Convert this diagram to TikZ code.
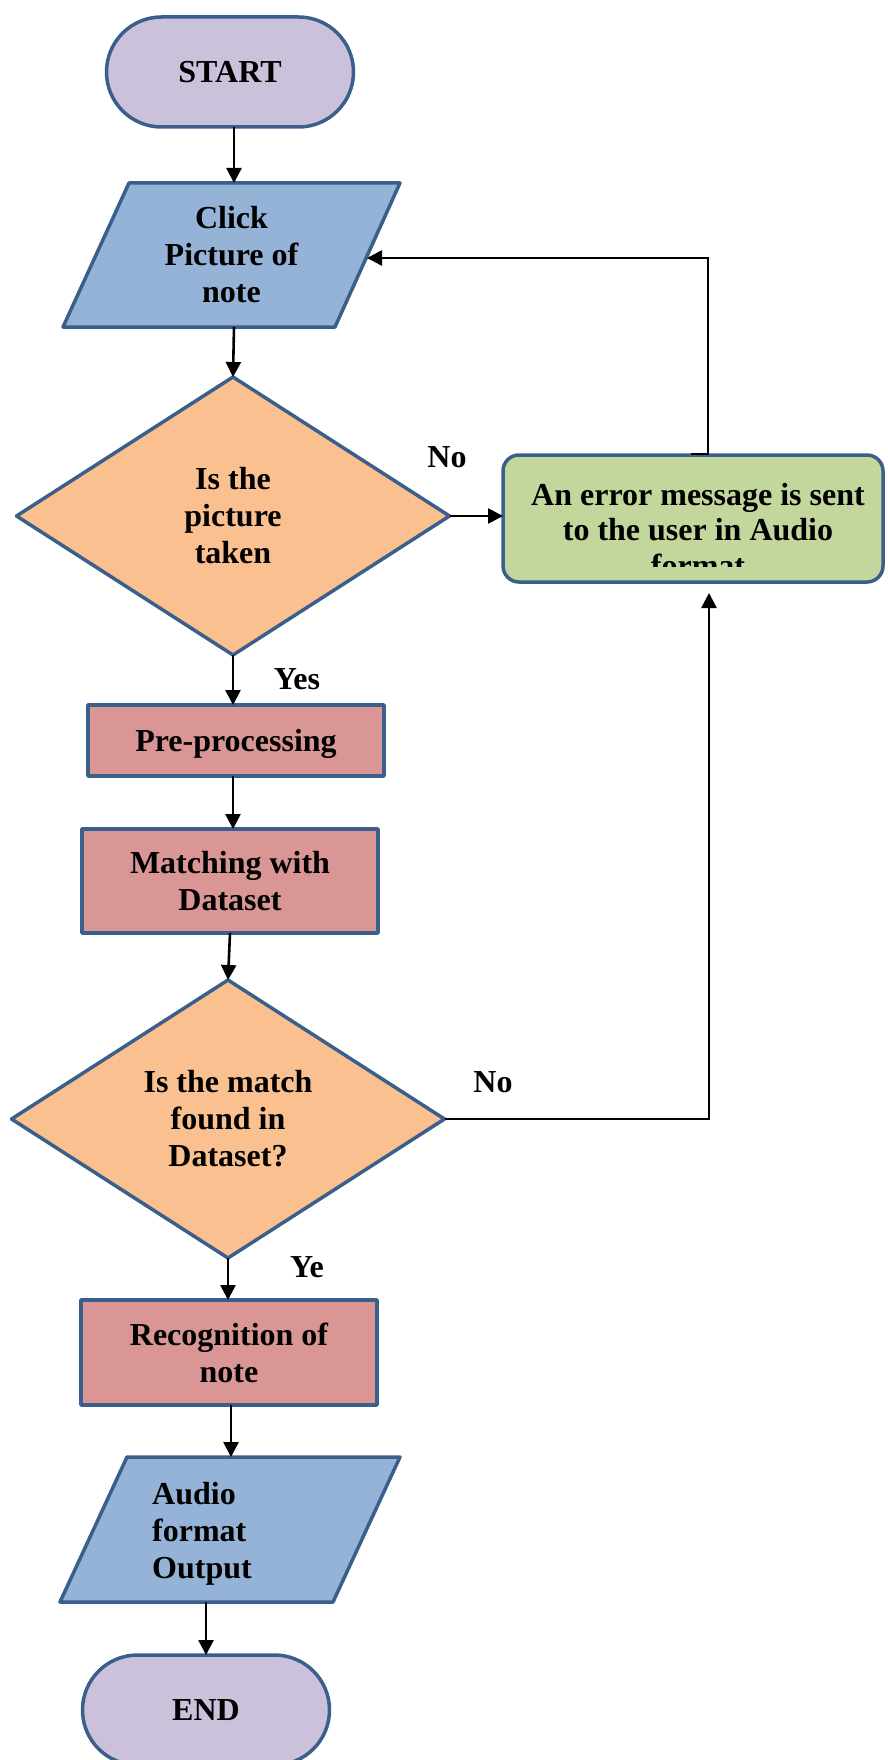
\documentclass[tikz,border=0pt]{standalone}
\usepackage{fontspec}
\setmainfont{Liberation Serif}
\usetikzlibrary{shapes.geometric,arrows.meta,backgrounds}

\definecolor{termfill}{HTML}{CCC1DA}
\definecolor{iofill}{HTML}{95B3D7}
\definecolor{decfill}{HTML}{FAC090}
\definecolor{procfill}{HTML}{D99694}
\definecolor{errfill}{HTML}{C3D69B}
\definecolor{edge}{HTML}{3A5F8B}

\newcommand{\nodepth}[1]{\raisebox{0pt}[\height][0pt]{#1}}

\tikzset{
  txt/.style={font=\bfseries\fontsize{32}{37}\selectfont},
  base/.style={txt, draw=edge, line width=3.5pt, line join=round, inner sep=0pt,
    outer sep=0pt, align=center},
  terminal/.style={base, fill=termfill, rectangle, rounded corners=55pt,
    minimum width=247pt, minimum height=110pt},
  iobounds/.style={txt, rectangle, inner sep=0pt, outer sep=0pt, align=center},
  ioshape/.style={draw=edge, fill=iofill, line width=3.5pt, line join=round},
  decision/.style={base, fill=decfill, diamond, minimum width=433pt, minimum height=278pt},
  process/.style={base, fill=procfill, rectangle, minimum width=296pt},
  errbox/.style={base, fill=errfill, rectangle, rounded corners=16pt,
    minimum width=380pt, minimum height=127pt},
  lbl/.style={txt, inner sep=0pt},
  conn/.style={line width=2.6pt, -{Triangle[length=15pt,width=15pt]}}
}

\begin{document}
\begin{tikzpicture}[x=1pt, y=-1pt]
\useasboundingbox (0,0) rectangle (887,1760);

% shapes
\node[terminal] (start) at (230,72) {START};
\node[iobounds, minimum width=337pt, minimum height=144pt] (click) at (231.5,255)
  {Click\\Picture of\\note};
\node[decision] (d1) at (233,516) {Is the\\picture\\taken};
\node[errbox] (err) at (693,518.5) {};
\node[process, minimum height=71pt] (pre) at (236,740.5) {\nodepth{Pre-processing}};
\node[process, minimum height=104pt] (match) at (230,881) {Matching with\\Dataset};
\node[decision] (d2) at (228,1119) {Is the match\\found in\\Dataset?};
\node[process, minimum height=105pt] (recog) at (229,1352.5) {Recognition of\\note};
\node[iobounds, minimum width=340pt, minimum height=145pt] (audio) at (230,1529.5) {};
\node[lbl, align=left, anchor=west] (audiotext) at (152,1534) {Audio\\format\\Output};
\node[terminal] (end) at (206,1710) {END};

% slanted input/output boxes behind their text
\begin{scope}[on background layer]
  \draw[ioshape] ([xshift=66pt]click.north west) -- (click.north east)
    -- ([xshift=-65pt]click.south east) -- (click.south west) -- cycle;
  \draw[ioshape] ([xshift=67pt]audio.north west) -- (audio.north east)
    -- ([xshift=-67pt]audio.south east) -- (audio.south west) -- cycle;
\end{scope}

% message text, cut off by the box
\begin{scope}
  \clip (503,455) rectangle (883,566);
  \node[lbl, align=center, font=\bfseries\fontsize{32}{35.5}\selectfont] (errtext) at (698,530)
    {An error message is sent\\to the user in Audio\\format};
\end{scope}

% branch labels
\node[lbl] (no1) at (447,457) {No};
\node[lbl] (yes1) at (297,679) {Yes};
\node[lbl] (no2) at (493,1082) {No};
\node[lbl] (ye2) at (307,1267) {Ye};

% helper points
\coordinate (clickin) at (367,258);
\coordinate (errout) at (691,454);
\coordinate (errturn) at (708,454);
\coordinate (errin) at (709,593);

% connectors
\draw[conn] (start.south -| 234,0) -- (click.north -| 234,0);
\draw[conn] (click.south -| 234,0) -- (d1.north);
\draw[conn] (d1.east) -- (d1.east -| err.west);
\draw[conn] (errout) -- (errturn) |- (clickin);
\draw[conn] (d1.south) -- (d1.south |- pre.north);
\draw[conn] (pre.south -| 233,0) -- (match.north -| 233,0);
\draw[conn] (match.south) -- (d2.north);
\draw[conn] (d2.east) -| (errin);
\draw[conn] (d2.south) -- (d2.south |- recog.north);
\draw[conn] (recog.south -| 231,0) -- (audio.north -| 231,0);
\draw[conn] (audio.south -| end.north) -- (end.north);
\end{tikzpicture}
\end{document}
